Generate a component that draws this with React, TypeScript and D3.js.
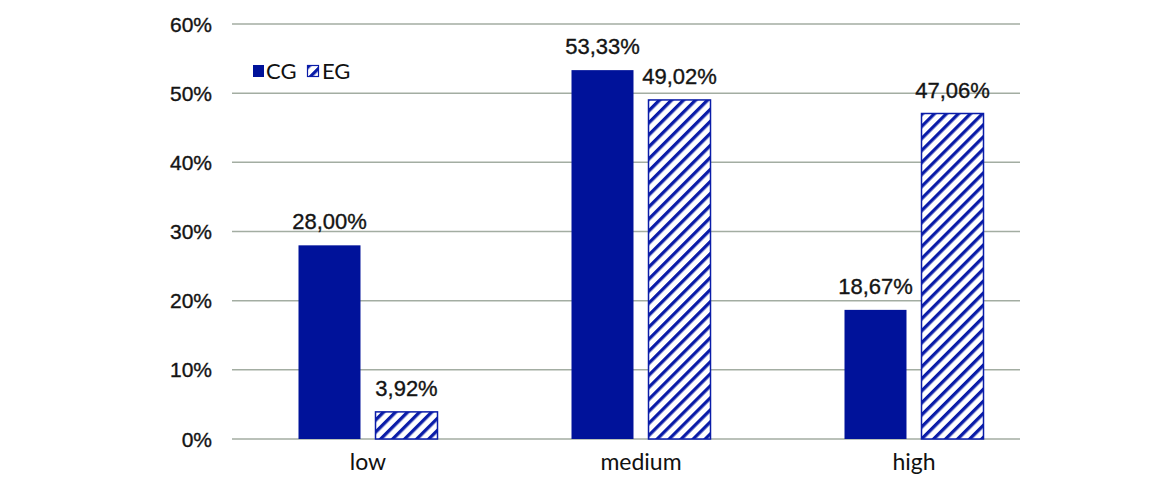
import React from 'react';
import * as d3 from 'd3';

const categories = ['low', 'medium', 'high'];
const seriesNames = ['CG', 'EG'];
const cgValues = [28.0, 53.33, 18.67];
const egValues = [3.92, 49.02, 47.06];
const yTicks = [0, 10, 20, 30, 40, 50, 60];

const W = 1169;
const H = 485;
const BLUE = '#00129a';
const HATCH = '#0a1ca8';
const GRID = '#a3ada2';

export default function App() {
  const y = d3.scaleLinear().domain([0, 60]).range([439, 24]);
  const x0 = d3.scaleBand().domain(categories).range([231.5, 1050.5]).paddingInner(0).paddingOuter(0);
  const groupW = 139;
  const x1 = d3.scaleBand().domain(seriesNames).range([0, groupW]).paddingInner(0.195).paddingOuter(0);
  const fmt = (v: number) => v.toFixed(2).replace('.', ',') + '%';
  const series = [
    { name: 'CG', values: cgValues },
    { name: 'EG', values: egValues },
  ];
  const gridX1 = 232;
  const gridX2 = 1020;

  return (
    <svg width={W} height={H} style={{ position: 'absolute', left: 0, top: 0, background: '#fff' }}>
      <defs>
        <pattern id="hatch" patternUnits="userSpaceOnUse" width={8.5} height={8.5} patternTransform="rotate(45)">
          <rect x={0} y={0} width={8.5} height={8.5} fill="#fff" />
          <rect x={0} y={0} width={3.3} height={8.5} fill={HATCH} />
        </pattern>
      </defs>
      {yTicks.map((t) => (
        <g key={t}>
          <line x1={gridX1} x2={gridX2} y1={y(t)} y2={y(t)} stroke={GRID} strokeWidth={1.5} />
          <text
            x={212}
            y={y(t)}
            dy="0.36em"
            textAnchor="end"
            fontFamily="Liberation Sans, Arial, sans-serif"
            fontSize={21}
            fill="#141414"
            stroke="#141414"
            strokeWidth={0.35}
          >
            {t}%
          </text>
        </g>
      ))}
      {categories.map((c, i) => {
        const gx = (x0(c) as number) + x0.bandwidth() / 2 - groupW / 2;
        return (
          <g key={c}>
            {series.map((s) => {
              const bx = gx + (x1(s.name) as number);
              const bw = x1.bandwidth();
              const v = s.values[i];
              const top = y(v);
              const isEG = s.name === 'EG';
              return (
                <g key={s.name}>
                  <rect
                    x={bx}
                    y={top}
                    width={bw}
                    height={y(0) - top}
                    fill={isEG ? 'url(#hatch)' : BLUE}
                    stroke={isEG ? HATCH : BLUE}
                    strokeWidth={isEG ? 1.5 : 0}
                  />
                  <text
                    x={bx + bw / 2}
                    y={top - 16}
                    textAnchor="middle"
                    fontFamily="Liberation Sans, Arial, sans-serif"
                    fontSize={22}
                    fill="#141414"
                    stroke="#141414"
                    strokeWidth={0.35}
                  >
                    {fmt(v)}
                  </text>
                </g>
              );
            })}
            <text
              x={(x0(c) as number) + x0.bandwidth() / 2}
              y={470}
              textAnchor="middle"
              fontFamily="Lato, sans-serif"
              fontSize={23}
              fill="#111"
            >
              {c}
            </text>
          </g>
        );
      })}
      <g>
        <rect x={253} y={65} width={11} height={12} fill={BLUE} />
        <text x={266} y={79} fontFamily="Lato, sans-serif" fontSize={22} fill="#111">
          {seriesNames[0]}
        </text>
        <rect x={307.5} y={65.5} width={11} height={11} fill="url(#hatch)" stroke={HATCH} strokeWidth={1.2} />
        <text x={322} y={79} fontFamily="Lato, sans-serif" fontSize={22} fill="#111">
          {seriesNames[1]}
        </text>
      </g>
    </svg>
  );
}
